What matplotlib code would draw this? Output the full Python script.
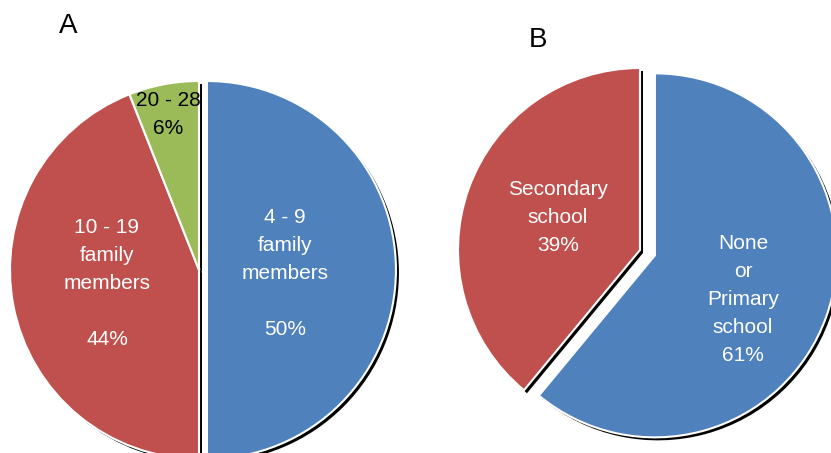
import matplotlib
matplotlib.use('Agg')
import matplotlib.pyplot as plt

plt.rcParams['font.family'] = ['Liberation Sans', 'DejaVu Sans']

# A: household size
a_labels = ['4 - 9\nfamily\nmembers', '10 - 19\nfamily\nmembers', '20 - 28']
a_values = [50, 44, 6]
a_colors = ['#4F81BD', '#C0504D', '#9BBB59']
a_text_colors = ['white', 'white', 'black']

# B: education level
b_labels = ['None\nor\nPrimary\nschool', 'Secondary\nschool']
b_values = [61, 39]
b_colors = ['#4F81BD', '#C0504D']
b_text_colors = ['white', 'white']

W, H = 831, 453
fig = plt.figure(figsize=(W / 100, H / 100), dpi=100)


def pie_axes(cx, cy, r, lim=1.4):
    # cx, cy = pie centre in pixels (from top-left), r = radius in pixels
    side = 2 * lim * r
    ax = fig.add_axes([(cx - side / 2) / W, (H - cy - side / 2) / H, side / W, side / H])
    return ax, lim, 3.0 / r


def draw_pie(ax, lim, sh, values, colors, explode):
    kw = dict(startangle=90, counterclock=False, explode=explode)
    # black drop shadow
    ax.pie(values, colors=['black'] * len(values), center=(sh, -sh),
           wedgeprops=dict(linewidth=0), **kw)
    ax.pie(values, colors=colors,
           wedgeprops=dict(edgecolor='white', linewidth=1.5), **kw)
    ax.set_xlim(-lim, lim)
    ax.set_ylim(-lim, lim)
    ax.set_aspect('equal')
    ax.axis('off')


# ---- pie A ----
axA, limA, shA = pie_axes(199, 270, 189)
draw_pie(axA, limA, shA, a_values, a_colors, [0.042, 0, 0])
a_pos = [(0.455, -0.02), (-0.487, -0.074), (-0.164, 0.825)]
for i in range(len(a_values)):
    sep = '\n\n' if i < 2 else '\n'
    axA.text(a_pos[i][0], a_pos[i][1], a_labels[i] + sep + str(a_values[i]) + '%',
             ha='center', va='center', color=a_text_colors[i],
             fontsize=15, linespacing=1.6)

# ---- pie B ----
axB, limB, shB = pie_axes(640, 250, 182)
draw_pie(axB, limB, shB, b_values, b_colors, [0.087, 0])
b_pos = [(0.566, -0.27), (-0.45, 0.176)]
for i in range(len(b_values)):
    axB.text(b_pos[i][0], b_pos[i][1], b_labels[i] + '\n' + str(b_values[i]) + '%',
             ha='center', va='center', color=b_text_colors[i],
             fontsize=15, linespacing=1.6)

fig.text(68 / W, 1 - 26 / H, 'A', fontsize=20, ha='center', va='center')
fig.text(538 / W, 1 - 40 / H, 'B', fontsize=20, ha='center', va='center')

fig.savefig('out.png', dpi=100)
